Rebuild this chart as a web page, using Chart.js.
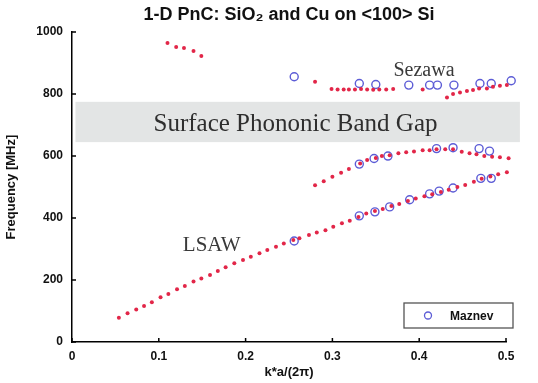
<!DOCTYPE html>
<html><head><meta charset="utf-8">
<script src="https://cdn.jsdelivr.net/npm/chart.js@4"></script>
<style>html,body{margin:0;padding:0;background:#fff}</style>
</head><body>
<canvas id="c" width="538" height="383"></canvas>
<script>
const titleText = '1-D PnC: SiO\u2082 and Cu on <100> Si';
const xTitle = 'k*a/(2\u03c0)';
const yTitle = 'Frequency [MHz]';
const legendLabel = 'Maznev';

// Simulated dispersion branches (red dots)
const topBranchX = [0.110, 0.120, 0.129, 0.140, 0.149];
const topBranchY = [965, 952, 949, 939, 923];

const sezawaAX = [0.280, 0.299, 0.306, 0.313, 0.319, 0.326, 0.333, 0.340, 0.347, 0.354, 0.362, 0.370, 0.404];
const sezawaAY = [840, 816, 815, 815, 815, 815, 816, 815, 814, 815, 815, 816, 815];

const sezawaBX = [0.432, 0.439, 0.447, 0.455, 0.462, 0.469, 0.478, 0.485, 0.493, 0.501, 0.508, 0.516];
const sezawaBY = [789, 800, 805, 810, 813, 818, 818, 824, 827, 829, 831, 829];

const middleX = [0.280, 0.290, 0.300, 0.310, 0.319, 0.332, 0.340, 0.350, 0.357, 0.366, 0.376, 0.385, 0.394, 0.404, 0.412, 0.420, 0.430, 0.439, 0.449, 0.458, 0.466, 0.475, 0.484, 0.493, 0.503, 0.512, 0.520];
const middleY = [506, 519, 533, 546, 558, 576, 587, 594, 600, 603, 609, 612, 615, 619, 619, 622, 622, 622, 614, 609, 606, 600, 598, 596, 593, 593, 587];

const lsawX = [0.054, 0.064, 0.074, 0.083, 0.092, 0.102, 0.111, 0.121, 0.130, 0.140, 0.149, 0.159, 0.168, 0.177, 0.187, 0.197, 0.206, 0.216, 0.225, 0.235, 0.244, 0.255,
               0.262, 0.273, 0.282, 0.292, 0.301, 0.311, 0.320, 0.330, 0.339, 0.349, 0.358, 0.368, 0.377, 0.387, 0.396, 0.406, 0.415, 0.425, 0.434, 0.444, 0.453, 0.463, 0.472, 0.482, 0.491, 0.501, 0.510, 0.520];
const lsawY = [78, 93, 105, 116, 128, 144, 155, 170, 181, 195, 205, 216, 229, 241, 254, 265, 275, 286, 297, 307, 318, 329,
               335, 345, 353, 361, 372, 383, 391, 403, 415, 423, 429, 439, 445, 455, 463, 470, 477, 484, 491, 500, 507, 517, 527, 534, 541, 548, 554, 560];

// Maznev measurements (blue open circles)
const maznevX = [0.256, 0.331, 0.350, 0.388, 0.412, 0.421, 0.440, 0.470, 0.483, 0.506,
                 0.331, 0.348, 0.364, 0.420, 0.439, 0.469, 0.481,
                 0.256, 0.331, 0.349, 0.366, 0.389, 0.412, 0.423, 0.439, 0.471, 0.483, 0.507];
const maznevY = [856, 834, 831, 829, 829, 829, 829, 834, 834, 843,
                 574, 592, 600, 624, 627, 624, 616,
                 326, 407, 420, 436, 459, 478, 487, 497, 528, 528, 550];

// Band gap region and labels
const bandLow = 645, bandHigh = 775, bandX0 = 0.004, bandX1 = 0.516;
const bandText = 'Surface Phononic Band Gap';
const bandTextX = 0.2575, bandTextY = 682;
const sezawaText = 'Sezawa', sezawaTextX = 0.4055, sezawaTextY = 858;
const lsawText = 'LSAW', lsawTextX = 0.161, lsawTextY = 294;

const RED = 'rgb(226,38,72)';
const BLUE = 'rgb(92,92,214)';

function pts(xs, ys) { return xs.map((x, i) => ({x: x, y: ys[i]})); }
function redSet(label, xs, ys) {
  return {label: label, data: pts(xs, ys), showLine: false, pointStyle: 'circle', pointRadius: 2,
          backgroundColor: RED, borderColor: RED, borderWidth: 0, clip: false};
}

const bandPlugin = {
  id: 'band',
  beforeDatasetsDraw(chart) {
    const {ctx, scales: {x, y}} = chart;
    ctx.save();
    const x0 = x.getPixelForValue(bandX0), x1 = x.getPixelForValue(bandX1);
    const y0 = y.getPixelForValue(bandHigh), y1 = y.getPixelForValue(bandLow);
    ctx.fillStyle = '#e3e5e5';
    ctx.fillRect(x0, y0, x1 - x0, y1 - y0);
    ctx.fillStyle = '#2e2e2e';
    ctx.textAlign = 'center';
    ctx.textBaseline = 'alphabetic';
    ctx.font = '25px "Liberation Serif", "Times New Roman", serif';
    ctx.fillText(bandText, x.getPixelForValue(bandTextX), y.getPixelForValue(bandTextY));
    ctx.fillStyle = '#3a3a3a';
    ctx.font = '20px "Liberation Serif", "Times New Roman", serif';
    ctx.fillText(sezawaText, x.getPixelForValue(sezawaTextX), y.getPixelForValue(sezawaTextY));
    ctx.font = '21px "Liberation Serif", "Times New Roman", serif';
    ctx.fillText(lsawText, x.getPixelForValue(lsawTextX), y.getPixelForValue(lsawTextY));
    ctx.restore();
  }
};

const ticksPlugin = {
  id: 'inTicks',
  afterDraw(chart) {
    const {ctx, chartArea: ca, scales: {x, y}} = chart;
    ctx.save();
    ctx.strokeStyle = '#000';
    ctx.lineWidth = 1.5;
    ctx.beginPath();
    x.ticks.forEach(t => { const px = x.getPixelForValue(t.value); ctx.moveTo(px, ca.bottom); ctx.lineTo(px, ca.bottom - 4); });
    y.ticks.forEach(t => { const py = y.getPixelForValue(t.value); ctx.moveTo(ca.left, py); ctx.lineTo(ca.left + 4, py); });
    ctx.stroke();
    // legend box
    const bx0 = ca.right - 102, bx1 = ca.right + 7, by0 = ca.bottom - 39, by1 = ca.bottom - 14;
    ctx.fillStyle = '#fff';
    ctx.fillRect(bx0, by0, bx1 - bx0, by1 - by0);
    ctx.strokeStyle = '#555';
    ctx.lineWidth = 1.3;
    ctx.strokeRect(bx0, by0, bx1 - bx0, by1 - by0);
    ctx.strokeStyle = BLUE;
    ctx.lineWidth = 1.3;
    ctx.beginPath();
    ctx.arc(bx0 + 24, (by0 + by1) / 2, 3.5, 0, Math.PI * 2);
    ctx.stroke();
    ctx.fillStyle = '#111';
    ctx.font = 'bold 12px "Liberation Sans", Arial, sans-serif';
    ctx.textAlign = 'left';
    ctx.textBaseline = 'middle';
    ctx.fillText(legendLabel, bx0 + 46, (by0 + by1) / 2 + 1);
    ctx.restore();
  }
};

const tickFont = {family: '"Liberation Sans", Arial, sans-serif', size: 12, weight: 'bold'};

new Chart(document.getElementById('c'), {
  type: 'scatter',
  data: {
    datasets: [
      redSet('Upper branch', topBranchX, topBranchY),
      redSet('Sezawa A', sezawaAX, sezawaAY),
      redSet('Sezawa B', sezawaBX, sezawaBY),
      redSet('Middle branch', middleX, middleY),
      redSet('LSAW', lsawX, lsawY),
      {label: legendLabel, data: pts(maznevX, maznevY), showLine: false, pointStyle: 'circle', pointRadius: 4,
       backgroundColor: 'rgba(0,0,0,0)', borderColor: BLUE, borderWidth: 1.4, clip: false}
    ]
  },
  options: {
    responsive: false,
    animation: false,
    devicePixelRatio: 1,
    layout: {padding: {left: 0, right: 32, top: 0, bottom: 0}},
    plugins: {
      legend: {display: false},
      tooltip: {enabled: false},
      title: {display: true, text: titleText, fullSize: false, color: '#111',
              font: {family: '"Liberation Sans", Arial, sans-serif', size: 18, weight: 'bold'},
              padding: {top: 4, bottom: 6.5}}
    },
    scales: {
      x: {
        type: 'linear',
        afterDataLimits(s) { s.min = 0; s.max = 0.5; },
        afterFit(s) { s.height = 41; },
        grid: {display: false, drawTicks: false},
        border: {display: true, color: '#000', width: 1.5},
        ticks: {stepSize: 0.1, color: '#111', font: tickFont, padding: 7,
                callback: v => v === 0 ? '0' : v.toFixed(1)},
        title: {display: true, text: xTitle, color: '#111',
                font: {family: '"Liberation Sans", Arial, sans-serif', size: 13, weight: 'bold'},
                padding: {top: 0, bottom: 3}}
      },
      y: {
        type: 'linear',
        min: 0, max: 1000,
        afterFit(s) { s.width = 72; },
        grid: {display: false, drawTicks: false},
        border: {display: true, color: '#000', width: 1.5},
        ticks: {stepSize: 200, color: '#111', font: tickFont, padding: 9,
                callback: v => String(v)},
        title: {display: true, text: yTitle, color: '#111',
                font: {family: '"Liberation Sans", Arial, sans-serif', size: 13, weight: 'bold'},
                padding: {top: 4, bottom: 0}}
      }
    }
  },
  plugins: [bandPlugin, ticksPlugin]
});
</script>
</body></html>
